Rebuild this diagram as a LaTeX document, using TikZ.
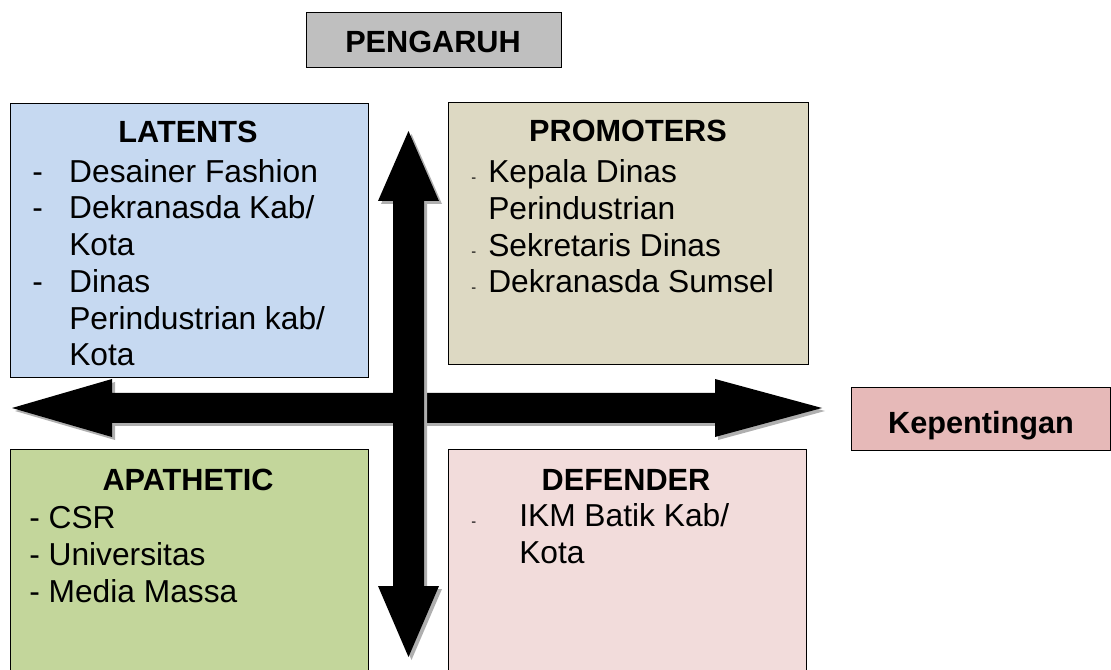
\documentclass[tikz,border=0pt]{standalone}
\usepackage{fontspec}
\setmainfont{Liberation Sans}
\usetikzlibrary{positioning}
\definecolor{latblue}{RGB}{198,217,241}
\definecolor{promtan}{RGB}{221,217,195}
\definecolor{apgreen}{RGB}{195,214,155}
\definecolor{defpink}{RGB}{242,220,219}
\definecolor{keppink}{RGB}{230,185,184}
\definecolor{pgray}{RGB}{191,191,191}
\definecolor{shadowgray}{RGB}{175,175,175}
\newcommand\dsh{\makebox[27.75pt][l]{-}}
\newcommand\sdsh[1]{\makebox[#1][l]{\fontsize{11}{11}\selectfont -}}

\begin{document}
\begin{tikzpicture}[x=0.75pt, y=-0.75pt,
  quad/.style={draw=black, line width=1.1pt, anchor=north west, inner sep=0pt},
  head/.style={font=\fontsize{23}{27}\selectfont\bfseries, anchor=base, inner sep=0pt},
  items/.style={font=\fontsize{23.8}{27.6}\selectfont, align=left, anchor=base west, inner sep=0pt},
  bigarrow/.style={fill=black, preaction={fill=shadowgray, transform canvas={shift={(3,3)}}}}]
  \useasboundingbox (0,0) rectangle (1111,670);

  % quadrants
  \node[quad, fill=latblue, minimum width=268.5pt, minimum height=205.5pt] (latents) at (10,103) {};
  \node[quad, fill=promtan, minimum width=270pt, minimum height=196.5pt] (promoters) at (448,102) {};
  \node[quad, fill=apgreen, minimum width=268.5pt, minimum height=168pt] (apathetic) at (10,449) {};
  \node[quad, fill=defpink, minimum width=268.5pt, minimum height=168pt] (defender) at (448,449) {};
  \node[quad, fill=pgray, minimum width=191.25pt, minimum height=41.25pt] (pengaruh) at (306,12) {};
  \node[quad, fill=keppink, minimum width=194.25pt, minimum height=47.25pt] (kepentingan) at (851,387) {};

  % axes
  \path[bigarrow] (12,408) -- (112,379) -- (112,393) -- (715,393) -- (715,379) -- (822,408)
    -- (715,437) -- (715,423) -- (112,423) -- (112,437) -- cycle;
  \path[bigarrow] (408.5,131) -- (439,201) -- (424,201) -- (424,586) -- (439,586) -- (408.5,657)
    -- (378,586) -- (393,586) -- (393,201) -- (378,201) -- cycle;

  % labels (lists are anchored on their last line)
  \node[head] (penglabel) at (433,53) {PENGARUH};
  \node[head] (keplabel) at (981,434) {Kepentingan};
  \node[head] (lattitle) at (188,143) {LATENTS};
  \node[head] (promtitle) at (628,142) {PROMOTERS};
  \node[head] (aptitle) at (188,490) {APATHETIC};
  \node[head] (deftitle) at (626,490) {DEFENDER};

  \node[items] (latlist) at (32,366) {\dsh Desainer Fashion\\ \dsh Dekranasda Kab/\\
    \hspace*{27.75pt}Kota\\ \dsh Dinas\\ \hspace*{27.75pt}Perindustrian kab/\\ \hspace*{27.75pt}Kota};
  \node[items] (promlist) at (471,293) {\sdsh{12.75pt}Kepala Dinas\\ \hspace*{12.75pt}Perindustrian\\
    \sdsh{12.75pt}Sekretaris Dinas\\ \sdsh{12.75pt}Dekranasda Sumsel};
  \node[items] (aplist) at (29,602) {- CSR\\ - Universitas\\ - Media Massa};
  \node[items] (deflist) at (471,563) {\sdsh{36pt}IKM Batik Kab/\\ \hspace*{36pt}Kota};
\end{tikzpicture}
\end{document}
